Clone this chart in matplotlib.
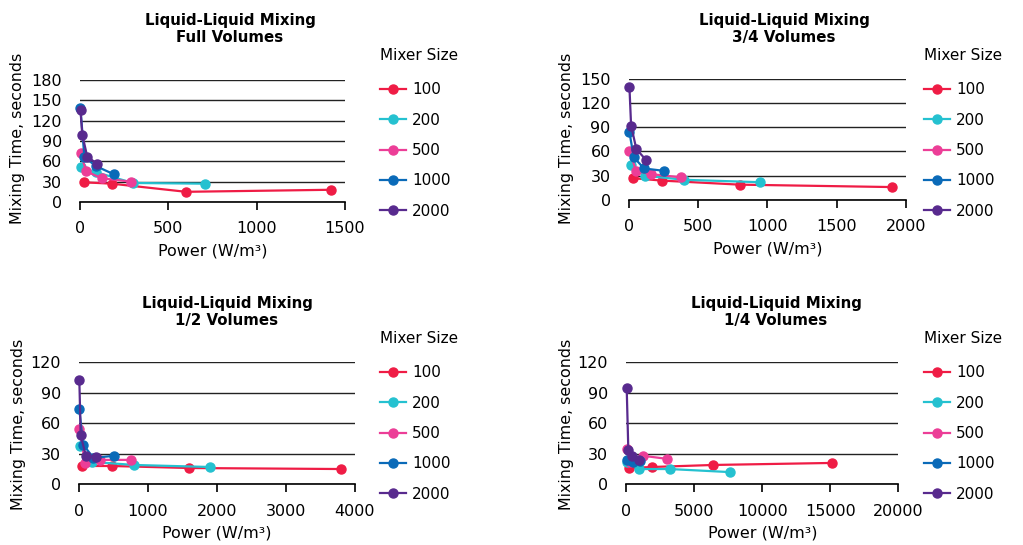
import matplotlib.pyplot as plt

# mixer sizes and colours
sizes = ["100", "200", "500", "1000", "2000"]
colors = ["#EF1C45", "#25C1D0", "#EC3E97", "#0A6AB8", "#582A8E"]

# Full volumes
full_x = [[24, 180, 600, 1420], [6, 90, 300, 710], [3, 36, 123, 287],
          [2, 25, 90, 190], [3, 13, 41, 98]]
full_y = [[29, 27, 15, 18], [51, 44, 28, 27], [72, 45, 35, 30],
          [139, 66, 53, 41], [135, 99, 67, 56]]

# 3/4 volumes
q3_x = [[30, 240, 800, 1900], [14, 117, 400, 950], [5, 53, 160, 380],
        [5, 36, 110, 257], [5, 17, 55, 127]]
q3_y = [[27, 24, 19, 16], [43, 30, 25, 22], [61, 36, 32, 28],
        [84, 53, 39, 36], [140, 92, 63, 49]]

# 1/2 volumes
half_x = [[50, 475, 1600, 3800], [15, 190, 800, 1900], [5, 90, 300, 750],
          [5, 60, 210, 510], [5, 25, 100, 245]]
half_y = [[18, 18, 16, 15], [38, 22, 19, 17], [54, 21, 24, 24],
          [74, 39, 26, 28], [103, 48, 28, 27]]

# 1/4 volumes
q1_x = [[220, 1900, 6400, 15150], [75, 950, 3200, 7600], [50, 300, 1250, 3000],
        [40, 250, 500, 1000], [30, 150, 450, 950]]
q1_y = [[16, 17, 19, 21], [22, 15, 15, 12], [35, 22, 28, 25],
        [24, 24, 22, 23], [95, 34, 28, 24]]

W, H = 1023, 545

panels = [
    ("Full Volumes", full_x, full_y, [0.0782, 0.6294, 0.259, 0.2239],
     (0, 1500), [0, 500, 1000, 1500], (0, 180), range(0, 181, 30), (230, 18), (380, 48)),
    ("3/4 Volumes", q3_x, q3_y, [0.6146, 0.633, 0.2711, 0.2226],
     (0, 2000), [0, 500, 1000, 1500, 2000], (0, 150), range(0, 151, 30), (784, 567), (924, 48)),
    ("1/2 Volumes", half_x, half_y, [0.0772, 0.1114, 0.2698, 0.2239],
     (0, 4000), [0, 1000, 2000, 3000, 4000], (0, 120), range(0, 121, 30), (227, 19), (380, 331)),
    ("1/4 Volumes", q1_x, q1_y, [0.6122, 0.1114, 0.2659, 0.2239],
     (0, 20000), [0, 5000, 10000, 15000, 20000], (0, 120), range(0, 121, 30), (776, 567), (924, 331)),
]

fig = plt.figure(figsize=(W / 100, H / 100), dpi=100)

for i, (sub, xs, ys, pos, xlim, xt, ylim, yt, (tx, lx), (gx, gy)) in enumerate(panels):
    ax = fig.add_axes(pos)
    for k in range(len(sizes)):
        ax.plot(xs[k], ys[k], "-o", color=colors[k], lw=1.6, ms=6.5,
                label=sizes[k], clip_on=False)
    ax.set_xlim(*xlim)
    ax.set_ylim(*ylim)
    ax.set_xticks(xt)
    ax.set_yticks(list(yt))
    ax.yaxis.grid(True, color="#222222", lw=1.0)
    ax.set_axisbelow(True)
    for s in ["top", "right", "left"]:
        ax.spines[s].set_visible(False)
    ax.spines["bottom"].set_color("black")
    ax.spines["bottom"].set_linewidth(1.2)
    ax.tick_params(axis="x", direction="out", length=6, width=1.2, pad=8, labelsize=11.5)
    ax.tick_params(axis="y", length=0, pad=13, labelsize=11.5)

    top = 0 if i < 2 else 283
    fig.text(tx / W, 1 - (top + 29) / H, "Liquid-Liquid Mixing\n" + sub,
             ha="center", va="center", fontsize=10.8, fontweight="bold",
             linespacing=1.1)
    cy = 138 if i < 2 else 424
    fig.text(lx / W, 1 - cy / H, "Mixing Time, seconds", rotation=90,
             ha="center", va="center", fontsize=11.4)
    ax.set_xlabel("Power (W/m³)", fontsize=11.5, labelpad=5)

    leg = ax.legend(loc="upper left", bbox_to_anchor=(gx / W, 1 - gy / H),
                    bbox_transform=fig.transFigure, borderaxespad=0, borderpad=0,
                    frameon=False, title="Mixer Size", fontsize=11,
                    title_fontsize=11, labelspacing=1.0, handlelength=1.7,
                    handletextpad=0.4, alignment="left")
    leg._legend_box.sep = 14

fig.savefig("out.png", dpi=100)
